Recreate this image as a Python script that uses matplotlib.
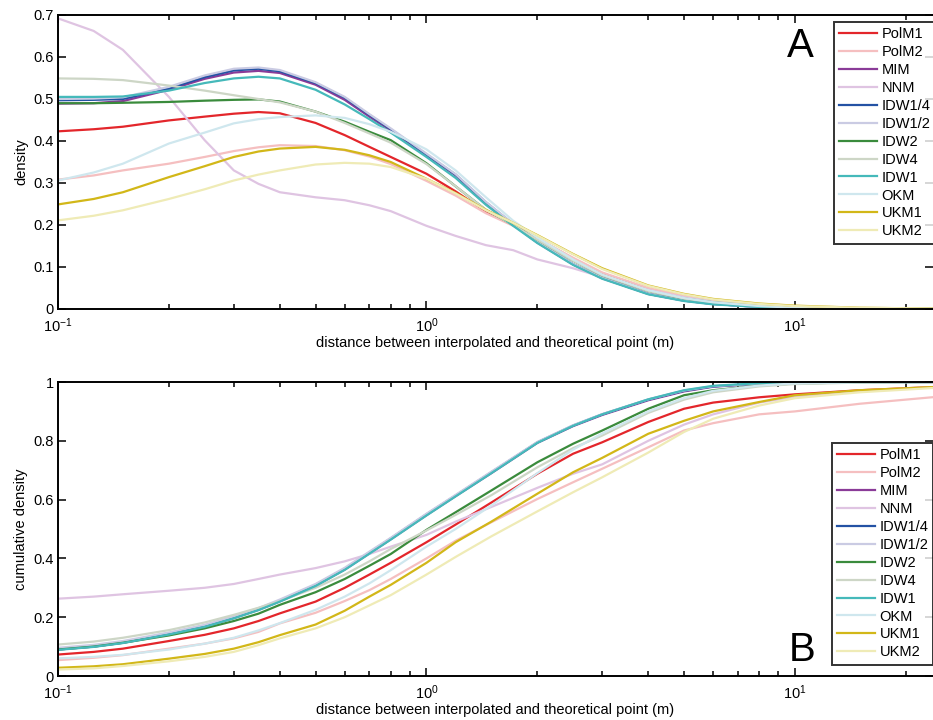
import numpy as np
import matplotlib
matplotlib.use('Agg')
from matplotlib import pyplot as plt
from matplotlib.ticker import FuncFormatter, LogLocator

plt.rcParams['font.family'] = ['Liberation Sans', 'DejaVu Sans']
plt.rcParams['mathtext.default'] = 'regular'

names = ['PolM1', 'PolM2', 'MIM', 'NNM', 'IDW1/4', 'IDW1/2',
         'IDW2', 'IDW4', 'IDW1', 'OKM', 'UKM1', 'UKM2']
colors = ['#e3262b', '#f5bfc0', '#8a3b98', '#dfc4e2', '#2452a4', '#cacbe3',
          '#3a8b3c', '#cdd6c6', '#45b9ba', '#cfe7ee', '#d2b718', '#efebb6']

# panel A: density
x_dens = [0.1, 0.125, 0.15, 0.2, 0.25, 0.3, 0.35, 0.4, 0.5, 0.6, 0.7, 0.8,
          1.0, 1.2, 1.45, 1.72, 2.0, 2.5, 3.0, 4.0, 5.0, 6.0, 8.0, 10.0, 15.0, 24.0]
dens_polm1 = [0.423, 0.428, 0.434, 0.449, 0.458, 0.465, 0.469, 0.466, 0.443, 0.414, 0.386, 0.362,
              0.322, 0.280, 0.232, 0.200, 0.168, 0.120, 0.085, 0.048, 0.029, 0.018, 0.009, 0.004, 0.0015, 0.0005]
dens_polm2 = [0.308, 0.318, 0.330, 0.346, 0.362, 0.376, 0.385, 0.390, 0.388, 0.378, 0.363, 0.345,
              0.305, 0.270, 0.228, 0.198, 0.168, 0.122, 0.087, 0.050, 0.031, 0.020, 0.010, 0.005, 0.002, 0.0007]
dens_mim = [0.489, 0.490, 0.495, 0.522, 0.548, 0.563, 0.567, 0.562, 0.534, 0.498, 0.458, 0.425,
            0.366, 0.318, 0.252, 0.200, 0.158, 0.106, 0.073, 0.036, 0.020, 0.012, 0.005, 0.002, 0.001, 0.0003]
dens_nnm = [0.692, 0.662, 0.617, 0.505, 0.402, 0.330, 0.298, 0.278, 0.266, 0.259, 0.247, 0.233,
            0.198, 0.174, 0.152, 0.140, 0.118, 0.097, 0.076, 0.045, 0.028, 0.018, 0.009, 0.004, 0.0015, 0.0005]
dens_idw14 = [0.497, 0.498, 0.500, 0.525, 0.552, 0.568, 0.572, 0.566, 0.538, 0.503, 0.462, 0.428,
              0.368, 0.320, 0.254, 0.202, 0.160, 0.107, 0.074, 0.036, 0.020, 0.012, 0.005, 0.002, 0.001, 0.0003]
dens_idw12 = [0.500, 0.501, 0.504, 0.529, 0.556, 0.572, 0.575, 0.569, 0.540, 0.505, 0.464, 0.430,
              0.370, 0.321, 0.255, 0.203, 0.160, 0.107, 0.074, 0.036, 0.020, 0.012, 0.005, 0.002, 0.001, 0.0003]
dens_idw2 = [0.490, 0.490, 0.491, 0.493, 0.496, 0.498, 0.499, 0.494, 0.470, 0.446, 0.422, 0.402,
             0.347, 0.292, 0.236, 0.200, 0.165, 0.115, 0.080, 0.043, 0.025, 0.016, 0.007, 0.003, 0.001, 0.0003]
dens_idw4 = [0.549, 0.548, 0.545, 0.532, 0.520, 0.509, 0.500, 0.492, 0.470, 0.443, 0.418, 0.396,
             0.345, 0.292, 0.236, 0.200, 0.165, 0.115, 0.080, 0.043, 0.025, 0.016, 0.007, 0.003, 0.001, 0.0003]
dens_idw1 = [0.505, 0.505, 0.506, 0.520, 0.538, 0.549, 0.553, 0.549, 0.522, 0.487, 0.452, 0.420,
             0.362, 0.312, 0.248, 0.198, 0.157, 0.105, 0.072, 0.035, 0.019, 0.011, 0.005, 0.002, 0.001, 0.0003]
dens_okm = [0.306, 0.325, 0.346, 0.394, 0.420, 0.442, 0.452, 0.457, 0.461, 0.455, 0.440, 0.422,
            0.380, 0.330, 0.266, 0.210, 0.170, 0.118, 0.082, 0.045, 0.026, 0.016, 0.007, 0.003, 0.001, 0.0003]
dens_ukm1 = [0.249, 0.262, 0.278, 0.314, 0.340, 0.362, 0.375, 0.382, 0.386, 0.379, 0.366, 0.350,
             0.310, 0.276, 0.236, 0.205, 0.176, 0.131, 0.097, 0.056, 0.036, 0.024, 0.013, 0.008, 0.003, 0.001]
dens_ukm2 = [0.211, 0.222, 0.235, 0.262, 0.285, 0.306, 0.320, 0.330, 0.344, 0.348, 0.346, 0.338,
             0.310, 0.275, 0.235, 0.205, 0.175, 0.130, 0.095, 0.055, 0.035, 0.023, 0.012, 0.007, 0.003, 0.001]

# panel B: cumulative density
x_cum = [0.1, 0.125, 0.15, 0.2, 0.25, 0.3, 0.35, 0.4, 0.5, 0.6, 0.7, 0.8,
         1.0, 1.2, 1.5, 2.0, 2.5, 3.0, 4.0, 5.0, 6.0, 8.0, 10.0, 15.0, 24.0]
cum_polm1 = [0.073, 0.082, 0.093, 0.119, 0.140, 0.162, 0.187, 0.213, 0.253, 0.300, 0.345, 0.385,
             0.455, 0.515, 0.590, 0.688, 0.756, 0.795, 0.864, 0.909, 0.930, 0.948, 0.958, 0.972, 0.983]
cum_polm2 = [0.054, 0.062, 0.071, 0.093, 0.110, 0.128, 0.150, 0.179, 0.215, 0.255, 0.292, 0.330,
             0.400, 0.460, 0.523, 0.602, 0.659, 0.705, 0.778, 0.835, 0.860, 0.890, 0.900, 0.926, 0.949]
cum_mim = [0.090, 0.100, 0.113, 0.142, 0.168, 0.197, 0.225, 0.254, 0.307, 0.362, 0.417, 0.465,
           0.547, 0.612, 0.690, 0.793, 0.850, 0.888, 0.938, 0.968, 0.984, 0.994, 0.998, 1.0, 1.0]
cum_nnm = [0.263, 0.270, 0.278, 0.290, 0.300, 0.313, 0.330, 0.345, 0.367, 0.390, 0.415, 0.440,
           0.480, 0.525, 0.575, 0.640, 0.688, 0.720, 0.800, 0.855, 0.890, 0.930, 0.950, 0.970, 0.982]
cum_idw14 = [0.093, 0.103, 0.116, 0.145, 0.171, 0.200, 0.228, 0.257, 0.310, 0.365, 0.420, 0.468,
             0.550, 0.614, 0.693, 0.795, 0.852, 0.890, 0.940, 0.970, 0.985, 0.995, 0.999, 1.0, 1.0]
cum_idw12 = [0.096, 0.106, 0.119, 0.148, 0.174, 0.203, 0.231, 0.260, 0.313, 0.368, 0.423, 0.470,
             0.552, 0.616, 0.695, 0.796, 0.853, 0.891, 0.941, 0.971, 0.986, 0.995, 0.999, 1.0, 1.0]
cum_idw2 = [0.090, 0.100, 0.113, 0.138, 0.162, 0.187, 0.212, 0.242, 0.285, 0.330, 0.375, 0.415,
            0.497, 0.557, 0.631, 0.727, 0.790, 0.835, 0.909, 0.955, 0.972, 0.988, 0.995, 0.999, 1.0]
cum_idw4 = [0.107, 0.117, 0.130, 0.156, 0.182, 0.208, 0.232, 0.255, 0.300, 0.345, 0.390, 0.432,
            0.495, 0.548, 0.615, 0.710, 0.775, 0.818, 0.895, 0.940, 0.965, 0.985, 0.993, 0.998, 1.0]
cum_idw1 = [0.089, 0.099, 0.112, 0.141, 0.167, 0.196, 0.224, 0.253, 0.306, 0.361, 0.416, 0.464,
            0.546, 0.611, 0.690, 0.793, 0.851, 0.890, 0.941, 0.972, 0.987, 0.996, 0.999, 1.0, 1.0]
cum_okm = [0.060, 0.065, 0.072, 0.090, 0.110, 0.130, 0.155, 0.180, 0.225, 0.270, 0.315, 0.360,
           0.440, 0.500, 0.580, 0.690, 0.770, 0.825, 0.900, 0.945, 0.970, 0.988, 0.995, 0.999, 1.0]
cum_ukm1 = [0.028, 0.033, 0.040, 0.059, 0.075, 0.093, 0.115, 0.139, 0.175, 0.222, 0.270, 0.310,
            0.385, 0.455, 0.525, 0.620, 0.693, 0.742, 0.824, 0.868, 0.900, 0.932, 0.955, 0.972, 0.983]
cum_ukm2 = [0.022, 0.026, 0.034, 0.050, 0.065, 0.082, 0.105, 0.128, 0.162, 0.200, 0.240, 0.275,
            0.345, 0.405, 0.475, 0.560, 0.625, 0.676, 0.760, 0.830, 0.875, 0.920, 0.945, 0.965, 0.980]

dens = [dens_polm1, dens_polm2, dens_mim, dens_nnm, dens_idw14, dens_idw12,
        dens_idw2, dens_idw4, dens_idw1, dens_okm, dens_ukm1, dens_ukm2]
cums = [cum_polm1, cum_polm2, cum_mim, cum_nnm, cum_idw14, cum_idw12,
        cum_idw2, cum_idw4, cum_idw1, cum_okm, cum_ukm1, cum_ukm2]

fig = plt.figure(figsize=(9.33, 7.2), dpi=100)
W, H = 933.0, 720.0
ax1 = fig.add_axes([58 / W, (H - 309) / H, (W - 58) / W, 294 / H])
ax2 = fig.add_axes([58 / W, (H - 676) / H, (W - 58) / W, 294 / H])

xlab = 'distance between interpolated and theoretical point (m)'


def style_axes(ax):
    ax.set_xscale('log')
    ax.set_xlim(0.1, 23.7)
    ax.xaxis.set_minor_locator(LogLocator(base=10, subs=np.arange(2, 10)))
    ax.tick_params(which='both', direction='in', top=True, right=True,
                   labelsize=10.5, width=1.1, colors='black')
    ax.tick_params(which='major', length=6)
    ax.tick_params(which='minor', length=3.5)
    ax.tick_params(axis='x', which='major', pad=5)
    ax.tick_params(axis='y', which='major', pad=3)
    ax.yaxis.set_major_formatter(FuncFormatter(lambda v, p: '%g' % v))
    for s in ['top', 'bottom', 'left']:
        ax.spines[s].set_linewidth(1.4)
    ax.spines['right'].set_visible(False)
    ax.set_xlabel(xlab, fontsize=10.5, labelpad=1)


def add_legend(ax, x0, y0):
    leg = ax.legend(loc='upper left', bbox_to_anchor=(x0, y0),
                    fontsize=10.5, frameon=True, fancybox=False, labelspacing=0.27,
                    handlelength=2.6, handletextpad=0.3, borderpad=0.35, borderaxespad=0)
    leg.get_frame().set_edgecolor('black')
    leg.get_frame().set_linewidth(1.4)
    return leg


for y, c, n in zip(dens, colors, names):
    ax1.plot(x_dens, y, color=c, lw=1.6, label=n)
style_axes(ax1)
ax1.set_ylim(0, 0.7)
ax1.set_yticks(np.arange(0, 0.71, 0.1))
ax1.set_ylabel('density', fontsize=10.5, labelpad=4)
ax1.text(800 / W, (H - 46) / H, 'A', transform=fig.transFigure, fontsize=29,
         ha='center', va='center')
add_legend(ax1, (834 - 58) / 875.0, (309 - 22) / 294.0)

for y, c, n in zip(cums, colors, names):
    ax2.plot(x_cum, y, color=c, lw=1.6, label=n)
style_axes(ax2)
ax2.set_ylim(0, 1)
ax2.set_yticks(np.arange(0, 1.01, 0.2))
ax2.set_ylabel('cumulative density', fontsize=10.5, labelpad=4)
ax2.text(802 / W, (H - 650) / H, 'B', transform=fig.transFigure, fontsize=29,
         ha='center', va='center')
add_legend(ax2, (832 - 58) / 875.0, (676 - 443) / 294.0)

plt.savefig('out.png', dpi=100)
